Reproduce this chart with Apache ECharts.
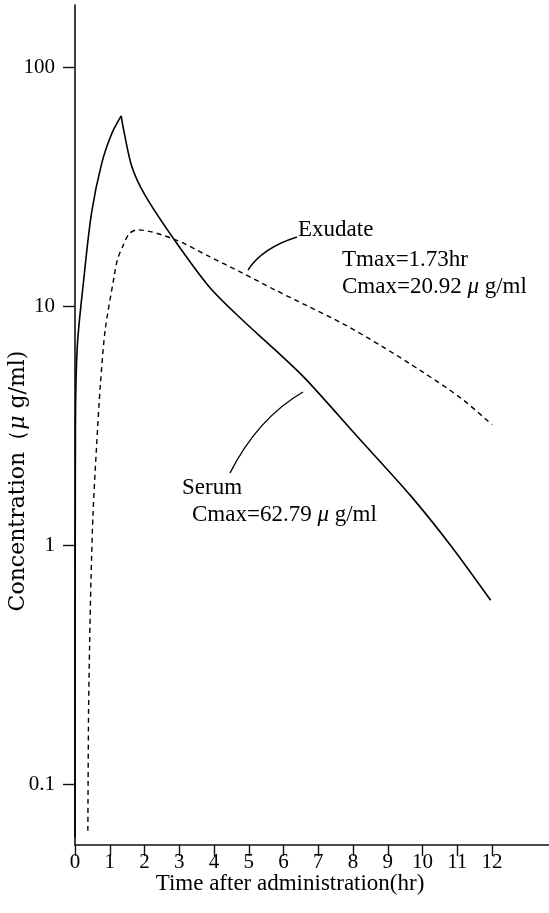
<!DOCTYPE html>
<html>
<head>
<meta charset="utf-8">
<script src="https://cdn.jsdelivr.net/npm/echarts@6/dist/echarts.min.js"></script>
<style>
html,body{margin:0;padding:0;background:#fff;}
#c{width:549px;height:913px;}
</style>
</head>
<body>
<div id="c"></div>
<script>
// ---- data (time in hr, concentration in µg/ml) ----
const xTickValues = [0,1,2,3,4,5,6,7,8,9,10,11,12];
const yTickValues = [0.1, 1, 10, 100];

const serumRiseTime = [0, 0.012, 0.066, 0.25, 0.475, 0.77, 1.065, 1.33];
const serumRiseConc = [0.06, 3.0, 6.8, 12.9, 24.6, 39.8, 53.2, 62.79];

const serumFallTime = [1.33, 1.40, 1.635, 2.01, 2.86, 3.86, 4.81, 5.76, 6.62, 8.13, 9.65, 10.81, 11.96];
const serumFallConc = [62.79, 54.8, 38.5, 29.3, 19.0, 12.1, 8.8, 6.58, 5.0, 2.85, 1.62, 1.0, 0.59];

const exudateTime = [0.37, 0.39, 0.42, 0.46, 0.52, 0.62, 0.73, 0.87, 1.125, 1.22, 1.37, 1.565, 1.8, 2.86, 3.86, 4.82, 5.77, 6.73, 7.69, 8.82, 9.97, 11.12, 12.0];
const exudateConc = [0.064, 0.20, 0.38, 0.72, 1.37, 2.59, 4.7, 8.0, 13.3, 15.7, 17.8, 20.2, 20.92, 19.1, 16.2, 13.8, 11.7, 9.98, 8.5, 6.83, 5.36, 4.12, 3.2];

const zip = (a, b) => a.map((v, i) => [v, b[i]]);

const FONT = '"Liberation Serif", "Times New Roman", serif';
const chart = echarts.init(document.getElementById('c'), null, {renderer: 'canvas'});

const lineBase = {
  type: 'line',
  showSymbol: false,
  symbol: 'none',
  smooth: 0.3,
  silent: true,
  animation: false
};

chart.setOption({
  animation: false,
  backgroundColor: '#fff',
  grid: {left: 75, right: 0, top: 5, bottom: 68, outerBoundsMode: 'none', containLabel: false},
  xAxis: {
    type: 'value',
    min: 0,
    max: 13.64,
    interval: 1,
    axisLine: {show: true, lineStyle: {color: '#111', width: 1.6}},
    axisTick: {show: true, inside: false, length: 11, customValues: xTickValues, lineStyle: {color: '#111', width: 1.4}},
    axisLabel: {show: true, customValues: xTickValues, margin: 7, fontFamily: FONT, fontSize: 21, color: '#000'},
    splitLine: {show: false}
  },
  yAxis: {
    type: 'log',
    logBase: 10,
    min: 0.0558,
    max: 182.6,
    axisLine: {show: true, lineStyle: {color: '#111', width: 1.6}},
    axisTick: {show: true, inside: false, length: 12, customValues: yTickValues, lineStyle: {color: '#111', width: 1.4}},
    axisLabel: {show: true, customValues: yTickValues, margin: 20, fontFamily: FONT, fontSize: 21, color: '#000',
      formatter: v => String(v)},
    splitLine: {show: false},
    minorTick: {show: false}
  },
  series: [
    Object.assign({}, lineBase, {name: 'Serum', data: zip(serumRiseTime, serumRiseConc),
      lineStyle: {color: '#000', width: 1.6, type: 'solid'}}),
    Object.assign({}, lineBase, {name: 'Serum ', data: zip(serumFallTime, serumFallConc),
      lineStyle: {color: '#000', width: 1.6, type: 'solid'}}),
    Object.assign({}, lineBase, {name: 'Exudate', data: zip(exudateTime, exudateConc),
      lineStyle: {color: '#000', width: 1.4, type: [5, 4]}})
  ]
});

const txt = (x, y, text, extra) => Object.assign({
  type: 'text', x: x, y: y, silent: true,
  style: Object.assign({
    text: text, fill: '#000', font: '23px ' + FONT,
    align: 'left', verticalAlign: 'middle',
    rich: {i: {fontStyle: 'italic', fontFamily: FONT, fontSize: 23}}
  }, extra || {})
});

chart.setOption({
  graphic: [
    txt(298, 230, 'Exudate'),
    txt(342, 260, 'Tmax=1.73hr'),
    txt(342, 287, 'Cmax=20.92 {i|μ} g/ml'),
    txt(182, 488, 'Serum'),
    txt(192, 515, 'Cmax=62.79 {i|μ} g/ml'),
    {type: 'bezierCurve', silent: true,
      shape: {x1: 248, y1: 270, cpx1: 262, cpy1: 248, x2: 297, y2: 237},
      style: {stroke: '#000', lineWidth: 1.4, fill: null}},
    {type: 'bezierCurve', silent: true,
      shape: {x1: 230, y1: 473, cpx1: 258, cpy1: 418, x2: 303, y2: 392},
      style: {stroke: '#000', lineWidth: 1.4, fill: null}},
    txt(290, 884, 'Time after administration(hr)', {align: 'center'}),
    {type: 'text', x: 18, y: 481, rotation: Math.PI / 2, silent: true,
      style: {text: 'Concentration（{i|μ} g/ml)', fill: '#000', font: '22px "DejaVu Serif", serif',
        align: 'center', verticalAlign: 'middle',
        rich: {i: {fontStyle: 'italic', fontFamily: '"DejaVu Serif", serif', fontSize: 22}}}}
  ]
});
</script>
</body>
</html>
